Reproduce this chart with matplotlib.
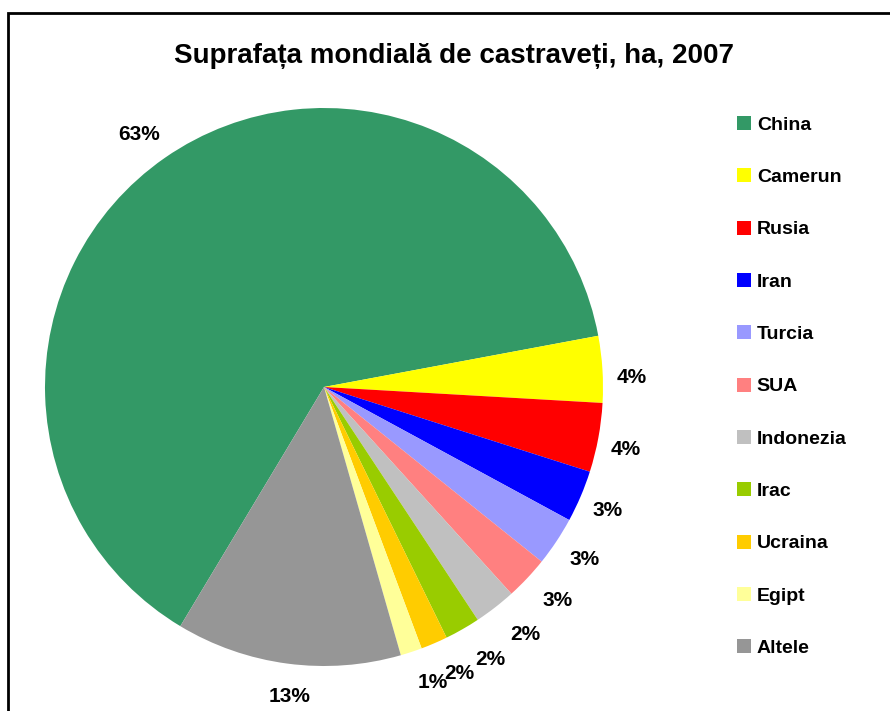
import matplotlib
matplotlib.use("Agg")
import matplotlib.pyplot as plt
from matplotlib.patches import Rectangle
import numpy as np

plt.rcParams['font.family'] = ['Liberation Sans', 'DejaVu Sans']

countries = ["China", "Camerun", "Rusia", "Iran", "Turcia", "SUA", "Indonezia",
             "Irac", "Ucraina", "Egipt", "Altele"]
shares = [63.45, 3.85, 4.0, 3.0, 2.85, 2.52, 2.43, 2.05, 1.55, 1.25, 13.05]
colors = ["#339966", "#FFFF00", "#FF0000", "#0000FF", "#9999FF", "#FF8080",
          "#C0C0C0", "#99CC00", "#FFCC00", "#FFFF99", "#969696"]
title = "Suprafața mondială de castraveți, ha, 2007"

W, H = 890, 711
fig = plt.figure(figsize=(W / 100, H / 100), dpi=100)

# outer chart frame (cropped at right/bottom)
fig.add_artist(Rectangle((8 / W, -0.05), 1.1, 1 - 13 / H + 0.05, transform=fig.transFigure,
                         fill=False, edgecolor="black", linewidth=2))

cx, cy, r = 324, 387, 279
ax = fig.add_axes([(cx - r) / W, (H - cy - r) / H, 2 * r / W, 2 * r / H])
wedges, texts = ax.pie(shares, colors=colors, startangle=239.0, counterclock=False,
                       radius=1, wedgeprops=dict(linewidth=0))
ax.set_xlim(-1, 1)
ax.set_ylim(-1, 1)
ax.set_aspect('equal')
ax.axis('off')

total = sum(shares)
for w, s in zip(wedges, shares):
    a = ((w.theta1 + w.theta2) / 2 + 180) % 360 - 180
    pct = int(100 * s / total + 0.5)
    lab = f"{pct}%"
    # outside-end label placement, mimicking the spreadsheet's layout
    off = 29.0
    if a < 0:
        off += 10 * np.exp(-((abs(a) - 55) / 20) ** 2)
    if len(lab) > 2:
        off += 12 * abs(np.cos(np.deg2rad(a)))
    if -90 < a < 10:
        la = a + min(2.2, 0.055 * (-a - 25))
    else:
        la = a + 1.2
    ang = np.deg2rad(la)
    d = 1 + off / r
    ax.text(d * np.cos(ang), d * np.sin(ang) - 2 / r, lab, ha='center', va='center',
            fontsize=15, fontweight='bold', clip_on=False)

fig.text(454.5 / W, 1 - 63 / H, title, ha='center', va='baseline',
         fontsize=20, fontweight='bold')

fig.legend(wedges, countries, loc='upper left', bbox_to_anchor=(737 / W, 1 - 116 / H),
           frameon=False, prop=dict(size=14, weight='bold'), handlelength=0.72,
           handleheight=0.72, handletextpad=0.3, labelspacing=1.78, borderpad=0,
           borderaxespad=0)

fig.savefig("out.png", dpi=100)
